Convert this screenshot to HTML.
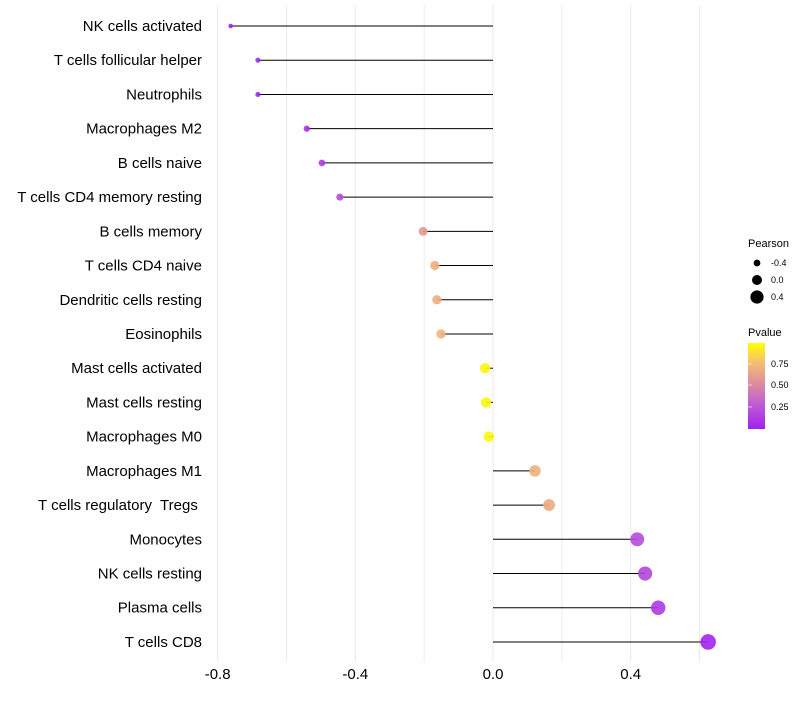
<!DOCTYPE html>
<html><head><meta charset="utf-8"><style>
body{margin:0;background:#fff;font-family:"Liberation Sans",sans-serif}
text{white-space:pre}
</style></head><body>
<svg id="c" width="800" height="700" xmlns="http://www.w3.org/2000/svg">
<defs><linearGradient id="pg" x1="0" y1="1" x2="0" y2="0">
<stop offset="0" stop-color="#A020F0"/><stop offset="0.3" stop-color="#C060D0"/><stop offset="0.55" stop-color="#E0909A"/><stop offset="0.78" stop-color="#F5C070"/><stop offset="1" stop-color="#FFFF00"/></linearGradient></defs>
</svg>
<script>
const categories=["NK cells activated","T cells follicular helper","Neutrophils","Macrophages M2","B cells naive","T cells CD4 memory resting","B cells memory","T cells CD4 naive","Dendritic cells resting","Eosinophils","Mast cells activated","Mast cells resting","Macrophages M0","Macrophages M1","T cells regulatory  Tregs ","Monocytes","NK cells resting","Plasma cells","T cells CD8"];
const pearson=[-0.762,-0.683,-0.683,-0.541,-0.497,-0.445,-0.203,-0.169,-0.163,-0.151,-0.023,-0.020,-0.012,0.122,0.163,0.419,0.442,0.480,0.625];
const pvalue=[0.01,0.03,0.03,0.08,0.12,0.2,0.6,0.7,0.7,0.72,0.97,0.97,0.97,0.7,0.68,0.2,0.18,0.12,0.03];
const xTicks=[-0.8,-0.4,0.0,0.4];
const xTickLabels=["-0.8","-0.4","0.0","0.4"];
const svg=document.getElementById('c');const NS="http://www.w3.org/2000/svg";
const x=v=>493+v*344.2;
const y=i=>26+i*34.22;
const rad=v=>5.3+4*v;
const stops=[[0,[160,32,240]],[0.3,[192,96,208]],[0.55,[224,144,154]],[0.78,[245,192,112]],[1,[255,255,0]]];
function col(p){let t=Math.max(0,Math.min(1,p));for(let k=1;k<stops.length;k++){if(t<=stops[k][0]){const a=stops[k-1],b=stops[k];const f=(t-a[0])/(b[0]-a[0]);return `rgb(${a[1].map((c,j)=>Math.round(c+(b[1][j]-c)*f)).join(',')})`;}}return 'rgb(255,255,0)';}
function el(t,a,txt){const e=document.createElementNS(NS,t);for(const k in a)e.setAttribute(k,a[k]);if(txt!=null)e.textContent=txt;svg.appendChild(e);return e;}
[-0.8,-0.6,-0.4,-0.2,0,0.2,0.4,0.6].forEach(v=>{const g=el('line',{x1:x(v),x2:x(v),y1:5,y2:662,stroke:'#ebebeb','stroke-width':1});

});
xTicks.forEach((v,i)=>{const t=el('text',{x:x(v),y:679,'text-anchor':'middle','font-size':15,fill:'#000'},xTickLabels[i]);

});
categories.forEach((c,i)=>{
const t=el('text',{x:202,y:y(i)+5,'text-anchor':'end','font-size':15,fill:'#000'},c);


const l=el('line',{x1:x(0),x2:x(pearson[i]),y1:y(i),y2:y(i),stroke:'#000','stroke-width':1});


const d=el('circle',{cx:x(pearson[i]),cy:y(i),r:rad(pearson[i]),fill:col(pvalue[i]),'fill-opacity':0.9});


});
const lt=el('text',{x:748,y:247,'font-size':11},'Pearson');
[[-0.4,263,"-0.4"],[0,280,"0.0"],[0.4,297,"0.4"]].forEach(a=>{const c=el('circle',{cx:757,cy:a[1],r:rad(a[0])-0.3,fill:'#000'});

const t=el('text',{x:771,y:a[1]+3,'font-size':9},a[2]);});
const pt=el('text',{x:748,y:336,'font-size':11},'Pvalue');
const cb=el('rect',{x:748,y:343,width:17,height:86,fill:'url(#pg)'});
[[0.75,364],[0.5,385],[0.25,407]].forEach(a=>{const t=el('text',{x:771,y:a[1]+3,'font-size':9},a[0].toFixed(2));
const tk=el('line',{x1:748,x2:752,y1:a[1],y2:a[1],stroke:'#fff','stroke-opacity':0.6});});
</script>
</body></html>
